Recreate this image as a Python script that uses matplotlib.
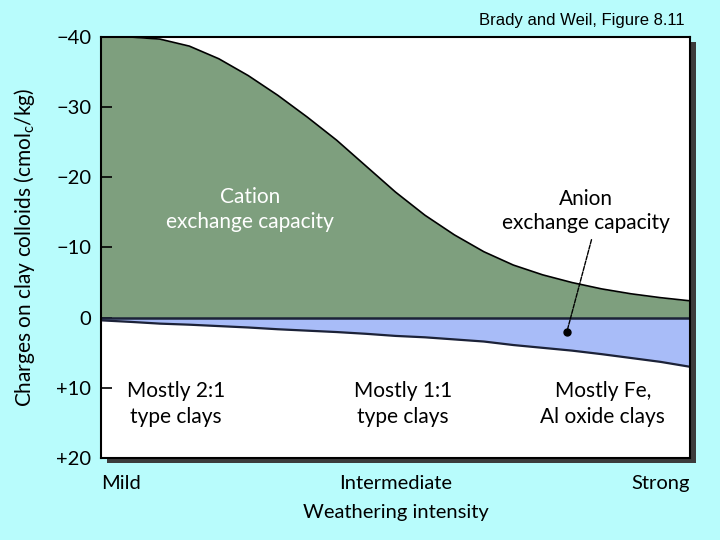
import matplotlib
matplotlib.use("Agg")
import matplotlib.pyplot as plt
from matplotlib.patches import Rectangle

# --- DATA ---
# weathering intensity, arbitrary 0 (mild) .. 100 (strong)
weathering = [0, 5, 10, 15, 20, 25, 30, 35, 40, 45, 50,
              55, 60, 65, 70, 75, 80, 85, 90, 95, 100]
# cation exchange capacity (negative charge), cmol_c/kg
cec = [-40.0, -40.0, -39.7, -38.7, -36.9, -34.5, -31.7, -28.6, -25.3, -21.6, -17.9,
       -14.6, -11.8, -9.4, -7.5, -6.1, -5.0, -4.1, -3.4, -2.85, -2.4]
# anion exchange capacity (positive charge), cmol_c/kg
aec = [0.38, 0.6, 0.85, 1.0, 1.2, 1.4, 1.65, 1.85, 2.05, 2.3, 2.6,
       2.8, 3.1, 3.4, 3.9, 4.3, 4.7, 5.2, 5.75, 6.3, 7.0]

y_ticks = [-40, -30, -20, -10, 0, 10, 20]
y_tick_labels = ["\u221240", "\u221230", "\u221220", "\u221210", "0", "+10", "+20"]
x_ticks = [0, 50, 100]
x_tick_labels = ["Mild", "Intermediate", "Strong"]

clay_labels = ["Mostly 2:1\ntype clays", "Mostly 1:1\ntype clays", "Mostly Fe,\nAl oxide clays"]
clay_x = [12.7, 51.3, 85.2]

# --- STYLE ---
BG = "#B8FCFC"
GREEN = "#7E9F7E"
BLUE = "#A8BCF8"
NAVY = "#1C2238"

plt.rcParams["font.family"] = ["Lato", "DejaVu Sans"]
plt.rcParams["mathtext.fontset"] = "custom"
plt.rcParams["mathtext.rm"] = "Lato"
plt.rcParams["mathtext.it"] = "Lato:italic"

fig = plt.figure(figsize=(7.2, 5.4), dpi=100, facecolor=BG)
ax = fig.add_axes([101 / 720, 1 - 458 / 540, 589 / 720, 421 / 540])
ax.set_facecolor("white")

# drop shadow behind the panel
shadow = Rectangle((107 / 720, 1 - 463 / 540), 589 / 720, 421 / 540,
                   transform=fig.transFigure, facecolor="#3C3C3C",
                   edgecolor="none", zorder=-1)
fig.patches.append(shadow)

ax.fill_between(weathering, cec, 0, color=GREEN, lw=0, zorder=1)
ax.fill_between(weathering, 0, aec, color=BLUE, lw=0, zorder=1)
ax.plot(weathering, cec, color="black", lw=1.2, zorder=3)
ax.plot(weathering, aec, color=NAVY, lw=1.6, zorder=3)
ax.axhline(0, color=NAVY, lw=1.8, zorder=3)

ax.set_xlim(0, 100)
ax.set_ylim(20, -40)

ax.set_yticks(y_ticks)
ax.set_yticklabels(y_tick_labels, fontsize=14.5)
ax.set_xticks(x_ticks)
ax.set_xticklabels(x_tick_labels, fontsize=14.5)
for lbl, ha in zip(ax.get_xticklabels(), ["left", "center", "right"]):
    lbl.set_ha(ha)
ax.tick_params(axis="y", direction="in", length=8, width=1.2, pad=7, colors="black")
ax.tick_params(axis="x", length=0, pad=12)

for s in ax.spines.values():
    s.set_color("black")
    s.set_linewidth(1.5)
    s.set_zorder(4)

ax.set_xlabel("Weathering intensity", fontsize=14.5, labelpad=9)
ax.set_ylabel("Charges on clay colloids (cmol$_\\mathrm{c}$/kg)", fontsize=15, labelpad=14)

# region labels
ax.text(25.3, -15.4, "Cation\nexchange capacity", color="white", fontsize=15,
        ha="center", va="center", linespacing=1.35, zorder=5)
ax.text(82.3, -15.2, "Anion\nexchange capacity", color="black", fontsize=15,
        ha="center", va="center", linespacing=1.25, zorder=5)
for lx, txt in zip(clay_x, clay_labels):
    ax.text(lx, 12.3, txt, fontsize=15, ha="center", va="center",
            linespacing=1.35, zorder=5)

# pointer to the anion band
ax.annotate("", xy=(79.1, 2.0), xytext=(83.4, -11.5),
            arrowprops=dict(arrowstyle="-", color="black", lw=1.0, ls=(0, (3, 1))),
            zorder=5)
ax.plot([79.1], [2.0], "o", color="black", ms=5, zorder=6)

fig.text(685 / 720, 1 - 20 / 540, "Brady and Weil, Figure 8.11",
         family=["Liberation Sans", "DejaVu Sans"], fontsize=12,
         ha="right", va="center")

fig.savefig("out.png", dpi=100, facecolor=BG)
